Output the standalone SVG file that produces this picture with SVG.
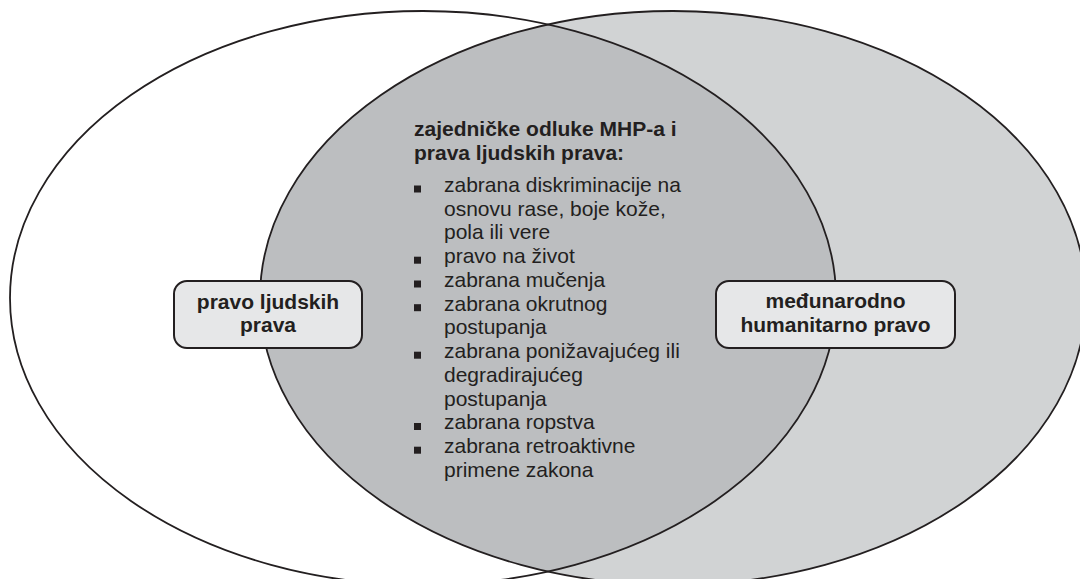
<svg xmlns="http://www.w3.org/2000/svg" width="1080" height="579" viewBox="0 0 1080 579">
  <style>
    .outline { fill: none; stroke: #231f20; stroke-width: 1.8; }
    .box { fill: #e6e7e8; stroke: #231f20; stroke-width: 2; }
    .lbl { font-family: "Liberation Sans", Arial, sans-serif; font-size: 21px; font-weight: bold; fill: #231f20; text-anchor: middle; }
    .title { font-family: "Liberation Sans", Arial, sans-serif; font-size: 21px; font-weight: bold; fill: #231f20; }
    .item { font-family: "Liberation Sans", Arial, sans-serif; font-size: 21px; fill: #231f20; }
    .bullet { fill: #231f20; }
  </style>
  <defs>
    <clipPath id="leftClip">
      <ellipse cx="423" cy="298" rx="413" ry="287"/>
    </clipPath>
  </defs>
  <rect x="0" y="0" width="1080" height="579" fill="#ffffff"/>

  <g id="venn">
    <ellipse id="left-set" cx="423" cy="298" rx="413" ry="287" fill="#ffffff"/>
    <ellipse id="right-set" cx="673" cy="298" rx="413" ry="287" fill="#d1d3d4"/>
    <ellipse id="overlap" cx="673" cy="298" rx="413" ry="287" fill="#bcbec0" clip-path="url(#leftClip)"/>
    <ellipse class="outline" cx="423" cy="298" rx="413" ry="287"/>
    <ellipse class="outline" cx="673" cy="298" rx="413" ry="287"/>
  </g>

  <g id="connectors"></g>

  <g id="node-left">
    <rect class="box" x="174" y="281" width="188" height="67" rx="13" ry="13"/>
    <text class="lbl" x="268" y="309">pravo ljudskih</text>
    <text class="lbl" x="268" y="332">prava</text>
  </g>

  <g id="node-right">
    <rect class="box" x="716" y="281" width="239" height="67" rx="13" ry="13"/>
    <text class="lbl" x="835.5" y="308">međunarodno</text>
    <text class="lbl" x="835.5" y="332">humanitarno pravo</text>
  </g>

  <g id="node-common">
    <text class="title" x="414" y="135.5">zajedničke odluke MHP-a i</text>
    <text class="title" x="414" y="160">prava ljudskih prava:</text>

    <rect class="bullet" x="414" y="185.5" width="7" height="7"/>
    <text class="item" x="444" y="191.7">zabrana diskriminacije na</text>
    <text class="item" x="444" y="215.5">osnovu rase, boje kože,</text>
    <text class="item" x="444" y="239.2">pola ili vere</text>

    <rect class="bullet" x="414" y="256.7" width="7" height="7"/>
    <text class="item" x="444" y="263">pravo na život</text>

    <rect class="bullet" x="414" y="280.5" width="7" height="7"/>
    <text class="item" x="444" y="286.7">zabrana mučenja</text>

    <rect class="bullet" x="414" y="304.2" width="7" height="7"/>
    <text class="item" x="444" y="310.5">zabrana okrutnog</text>
    <text class="item" x="444" y="334.2">postupanja</text>

    <rect class="bullet" x="414" y="351.7" width="7" height="7"/>
    <text class="item" x="444" y="358">zabrana ponižavajućeg ili</text>
    <text class="item" x="444" y="381.7">degradirajućeg</text>
    <text class="item" x="444" y="405.5">postupanja</text>

    <rect class="bullet" x="414" y="423" width="7" height="7"/>
    <text class="item" x="444" y="429.2">zabrana ropstva</text>

    <rect class="bullet" x="414" y="446.7" width="7" height="7"/>
    <text class="item" x="444" y="453">zabrana retroaktivne</text>
    <text class="item" x="444" y="476.7">primene zakona</text>
  </g>
</svg>
